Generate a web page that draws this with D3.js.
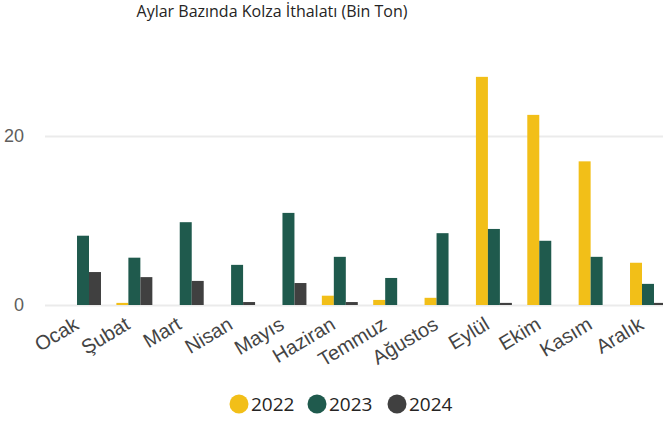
<!DOCTYPE html>
<html>
<head>
<meta charset="utf-8">
<script src="https://cdn.jsdelivr.net/npm/d3@7"></script>
<style>
  body { margin: 0; background: #fff; overflow: hidden; }
  svg { display: block; font-family: "Open Sans", "Noto Sans", sans-serif; }
</style>
</head>
<body>
<svg id="chart" width="663" height="426"></svg>
<script>
var months = ['Ocak', 'Şubat', 'Mart', 'Nisan', 'Mayıs', 'Haziran', 'Temmuz', 'Ağustos', 'Eylül', 'Ekim', 'Kasım', 'Aralık'];
var years = ['2022', '2023', '2024'];
var colors = ['#F2BF18', '#1F5A4D', '#404040'];

// bin ton
var v2022 = [0, 0.25, 0, 0, 0, 1.1, 0.6, 0.85, 27.0, 22.5, 17.0, 5.0];
var v2023 = [8.2, 5.6, 9.8, 4.75, 10.9, 5.7, 3.2, 8.5, 9.0, 7.6, 5.7, 2.5];
var v2024 = [3.9, 3.3, 2.85, 0.35, 2.6, 0.35, 0, 0, 0.25, 0, 0, 0.25];
var yTicks = [0, 20];

var series = [v2022, v2023, v2024];

var svg = d3.select('#chart');

var x = d3.scaleBand()
  .domain(months)
  .range([45, 686])
  .paddingInner(0.3)
  .paddingOuter(0.39);

var xs = d3.scaleBand()
  .domain(years)
  .range([0, x.bandwidth()]);

var y = d3.scaleLinear()
  .domain([0, 20])
  .range([305, 136]);

// title
svg.append('text')
  .attr('x', 272)
  .attr('y', 17)
  .attr('text-anchor', 'middle')
  .attr('fill', '#252423')
  .style('font-size', '16px')
  .text('Aylar Bazında Kolza İthalatı (Bin Ton)');

// gridlines + y labels
var yAxis = d3.axisLeft(y)
  .tickValues(yTicks)
  .tickSize(-(663 - 45))
  .tickFormat(d3.format('d'))
  .tickPadding(21);

var gy = svg.append('g')
  .attr('transform', 'translate(45,0)')
  .call(yAxis);
gy.select('.domain').remove();
gy.selectAll('.tick line')
  .attr('stroke', '#ebebeb')
  .attr('stroke-width', 2);
gy.selectAll('.tick text')
  .attr('fill', '#605e5c')
  .style('font-size', '18px');

// bars
var rows = months.map(function(m, i) {
  return { month: m, vals: years.map(function(yr, j) { return { year: yr, i: j, v: series[j][i] }; }) };
});

var groups = svg.append('g').selectAll('g')
  .data(rows)
  .enter()
  .append('g')
  .attr('transform', function(d) { return 'translate(' + x(d.month) + ',0)'; });

groups.selectAll('rect')
  .data(function(d) { return d.vals.filter(function(e) { return e.v > 0; }); })
  .enter()
  .append('rect')
  .attr('x', function(d) { return xs(d.year); })
  .attr('width', xs.bandwidth())
  .attr('y', function(d) { return y(d.v); })
  .attr('height', function(d) { return y(0) - y(d.v); })
  .attr('fill', function(d) { return colors[d.i]; });

// x axis labels
var xAxis = d3.axisBottom(x).tickSize(0).tickPadding(0);
var gx = svg.append('g')
  .attr('transform', 'translate(0,305)')
  .call(xAxis);
gx.select('.domain').remove();
gx.selectAll('.tick text')
  .attr('fill', '#444')
  .attr('text-anchor', 'end')
  .attr('dy', 0)
  .attr('transform', 'translate(-3,23) rotate(-31)')
  .style('font-size', '20px');

// legend
var legendX = [239, 317, 397];
var legend = svg.append('g').selectAll('g')
  .data(years)
  .enter()
  .append('g')
  .attr('transform', function(d, i) { return 'translate(' + legendX[i] + ',404)'; });

legend.append('circle')
  .attr('r', 9.5)
  .attr('fill', function(d, i) { return colors[i]; });

legend.append('text')
  .attr('x', 12)
  .attr('dy', '0.35em')
  .attr('fill', '#252423')
  .style('font-size', '19px')
  .text(function(d) { return d; });
</script>
</body>
</html>
